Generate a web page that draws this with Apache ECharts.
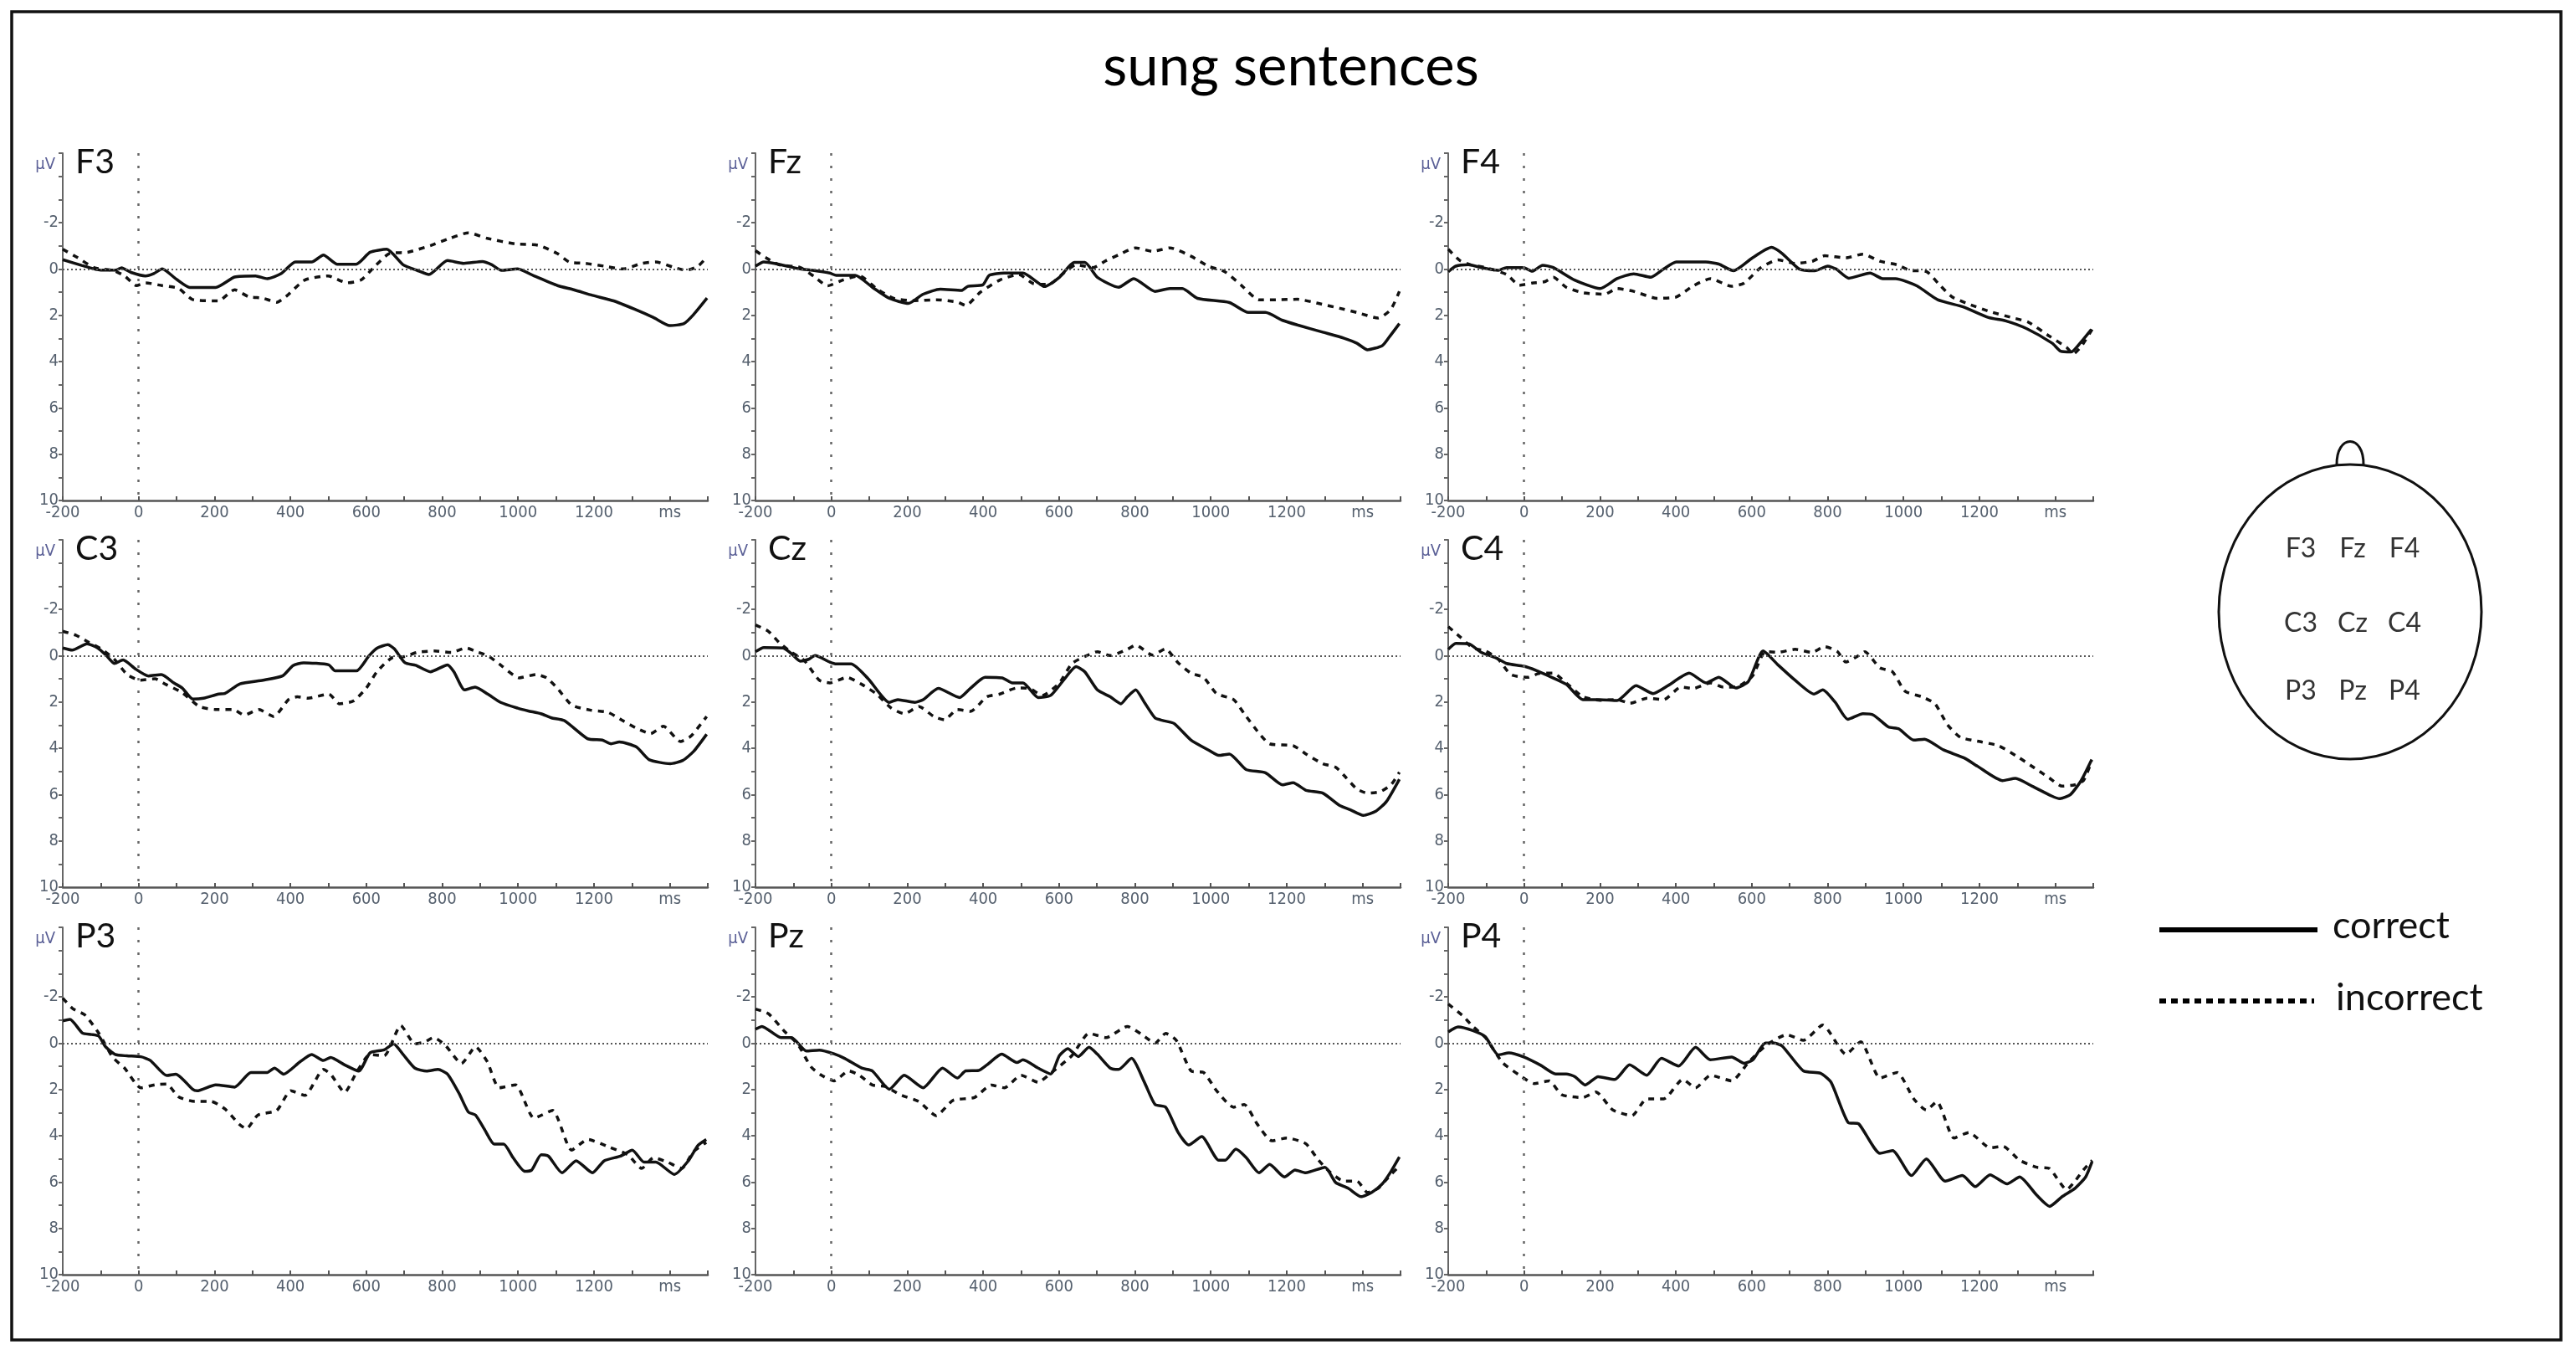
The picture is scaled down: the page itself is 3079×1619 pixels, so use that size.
<!DOCTYPE html>
<html><head><meta charset="utf-8">
<script src="https://cdn.jsdelivr.net/npm/echarts@6/dist/echarts.min.js"></script>
<style>html,body{margin:0;padding:0;background:#fff}#c{width:3079px;height:1619px}</style>
</head><body><div id="c"></div>
<script>
const chartTitle = 'sung sentences';
const channels = ['F3','Fz','F4','C3','Cz','C4','P3','Pz','P4'];
const seriesNames = ['correct','incorrect'];
const xLabelValues = [-200,0,200,400,600,800,1000,1200,1400];
const xLabelTexts = ['-200','0','200','400','600','800','1000','1200','ms'];
const yLabelValues = [-2,0,2,4,6,8,10];
const yUnit = 'μV';
const headRows = [['F3','Fz','F4'],['C3','Cz','C4'],['P3','Pz','P4']];

// [time ms, amplitude µV] (negative plotted up)
const f3Correct = [[-200,-0.4],[-150,-0.15],[-117,0],[-100,0.05],[-60,0.05],[-45,-0.05],[-20,0.15],[18,0.3],[40,0.2],[62,0],[100,0.45],[135,0.8],[203,0.8],[253,0.35],[308,0.3],[339,0.42],[376,0.2],[413,-0.3],[456,-0.3],[487,-0.6],[524,-0.2],[573,-0.2],[610,-0.72],[654,-0.85],[697,-0.18],[734,0.06],[765,0.24],[814,-0.36],[857,-0.24],[906,-0.32],[931,-0.18],[956,0.06],[999,0],[1042,0.3],[1104,0.72],[1147,0.9],[1196,1.14],[1252,1.38],[1307,1.74],[1357,2.1],[1400,2.45],[1437,2.36],[1462,1.98],[1498,1.26]];
const f3Incorrect = [[-200,-0.85],[-160,-0.48],[-117,-0.05],[-68,0.06],[-37,0.3],[-6,0.72],[18,0.6],[62,0.72],[105,0.84],[142,1.32],[210,1.38],[253,0.9],[290,1.2],[327,1.26],[364,1.44],[388,1.2],[438,0.48],[499,0.3],[549,0.6],[586,0.48],[623,-0.12],[660,-0.66],[709,-0.72],[771,-1.02],[820,-1.32],[869,-1.56],[919,-1.32],[993,-1.08],[1054,-1.02],[1104,-0.66],[1135,-0.3],[1178,-0.24],[1227,-0.12],[1277,0],[1326,-0.24],[1363,-0.3],[1412,-0.06],[1443,0.06],[1474,-0.12],[1496,-0.48]];
const fzCorrect = [[-200,-0.12],[-178,-0.3],[-150,-0.24],[-116,-0.12],[-82,0],[-49,0.06],[-4,0.18],[13,0.28],[63,0.28],[108,0.79],[153,1.27],[203,1.49],[242,1.09],[287,0.87],[343,0.93],[360,0.75],[399,0.69],[416,0.28],[455,0.18],[505,0.18],[545,0.6],[561,0.76],[601,0.36],[640,-0.28],[668,-0.28],[701,0.36],[757,0.79],[797,0.42],[853,0.97],[892,0.85],[925,0.85],[965,1.27],[1049,1.45],[1099,1.88],[1144,1.88],[1189,2.22],[1228,2.42],[1295,2.73],[1351,2.99],[1385,3.21],[1413,3.49],[1452,3.31],[1469,2.97],[1497,2.36]];
const fzIncorrect = [[-200,-0.79],[-172,-0.48],[-138,-0.18],[-82,-0.06],[-43,0.36],[-10,0.73],[30,0.48],[74,0.3],[119,0.85],[164,1.27],[220,1.37],[276,1.33],[332,1.43],[354,1.58],[393,1.0],[444,0.48],[494,0.24],[533,0.64],[573,0.67],[612,0.18],[645,-0.18],[690,-0.06],[724,-0.36],[757,-0.61],[802,-0.91],[847,-0.76],[892,-0.91],[948,-0.55],[993,-0.12],[1037,0.12],[1082,0.73],[1127,1.33],[1172,1.33],[1228,1.31],[1284,1.49],[1340,1.7],[1385,1.88],[1441,2.12],[1474,1.76],[1497,0.97]];
const f4Correct = [[-200,0.12],[-180,-0.12],[-147,-0.18],[-113,-0.06],[-69,0.06],[-46,-0.06],[-1,-0.06],[21,0.1],[49,-0.16],[77,-0.06],[133,0.48],[200,0.85],[245,0.42],[289,0.21],[334,0.36],[368,0],[401,-0.3],[479,-0.3],[513,-0.21],[552,0.08],[602,-0.48],[652,-0.93],[680,-0.67],[725,0],[766,0.08],[800,-0.12],[822,0],[856,0.4],[912,0.18],[945,0.42],[979,0.42],[1035,0.73],[1090,1.33],[1157,1.64],[1224,2.1],[1269,2.24],[1325,2.58],[1392,3.21],[1414,3.55],[1442,3.58],[1465,3.21],[1495,2.61]];
const f4Incorrect = [[-200,-0.85],[-169,-0.36],[-141,-0.18],[-102,-0.06],[-46,0.24],[-12,0.7],[21,0.61],[55,0.55],[77,0.36],[111,0.79],[156,1.03],[212,1.09],[245,0.85],[289,0.97],[351,1.27],[401,1.21],[446,0.73],[491,0.42],[547,0.75],[580,0.61],[624,-0.06],[669,-0.39],[714,-0.24],[759,-0.33],[792,-0.57],[848,-0.48],[893,-0.64],[938,-0.33],[983,-0.18],[1016,0.06],[1061,0.12],[1094,0.67],[1128,1.21],[1172,1.52],[1229,1.85],[1285,2.1],[1329,2.3],[1385,2.91],[1430,3.39],[1447,3.67],[1469,3.33],[1497,2.61]];
const c3Correct = [[-200,-0.33],[-175,-0.24],[-136,-0.51],[-108,-0.33],[-86,-0.02],[-64,0.34],[-41,0.19],[-8,0.58],[26,0.88],[60,0.82],[93,1.18],[115,1.4],[143,1.88],[171,1.84],[211,1.66],[227,1.64],[267,1.22],[328,1.06],[379,0.88],[407,0.43],[435,0.31],[501,0.4],[518,0.66],[574,0.66],[607,0.01],[629,-0.33],[657,-0.47],[674,-0.29],[702,0.31],[730,0.42],[769,0.7],[814,0.4],[831,0.7],[859,1.48],[887,1.36],[920,1.66],[954,2.02],[999,2.27],[1027,2.39],[1060,2.51],[1088,2.69],[1122,2.81],[1183,3.59],[1222,3.65],[1245,3.81],[1267,3.73],[1312,3.95],[1345,4.49],[1401,4.67],[1434,4.53],[1463,4.13],[1497,3.4]];
const c3Incorrect = [[-200,-1.05],[-164,-0.87],[-131,-0.57],[-97,-0.27],[-64,0.16],[-30,0.82],[4,1.06],[43,1.0],[71,1.24],[115,1.6],[160,2.2],[205,2.33],[250,2.33],[278,2.57],[317,2.33],[356,2.63],[395,1.9],[418,1.78],[446,1.84],[501,1.66],[529,2.08],[566,1.96],[600,1.4],[628,0.7],[667,0.1],[701,0.04],[734,-0.14],[779,-0.2],[824,-0.14],[863,-0.33],[891,-0.17],[924,0.04],[958,0.46],[1003,0.96],[1047,0.82],[1075,0.96],[1103,1.4],[1142,2.14],[1192,2.36],[1237,2.45],[1276,2.81],[1316,3.17],[1349,3.37],[1383,3.05],[1428,3.71],[1456,3.47],[1497,2.63]];
const czCorrect = [[-200,-0.17],[-178,-0.35],[-127,-0.33],[-105,-0.08],[-82,0.24],[-60,0.16],[-43,0],[-4,0.28],[13,0.36],[52,0.36],[97,1.0],[153,2.02],[175,1.9],[220,2.02],[242,1.9],[282,1.42],[338,1.81],[366,1.42],[405,0.94],[450,0.96],[477,1.18],[505,1.18],[545,1.81],[578,1.72],[612,1.06],[645,0.48],[668,0.7],[701,1.48],[735,1.78],[763,2.08],[780,1.78],[802,1.48],[825,2.02],[853,2.69],[875,2.81],[903,2.93],[948,3.65],[993,4.07],[1021,4.31],[1049,4.25],[1093,4.92],[1144,5.06],[1189,5.58],[1217,5.49],[1251,5.82],[1295,5.94],[1340,6.48],[1368,6.66],[1402,6.9],[1435,6.72],[1463,6.3],[1497,5.34]];
const czIncorrect = [[-200,-1.33],[-166,-1.05],[-138,-0.57],[-105,-0.14],[-71,0.22],[-32,1.06],[-4,1.18],[41,0.94],[80,1.24],[119,1.66],[158,2.27],[192,2.51],[231,2.2],[270,2.63],[298,2.77],[332,2.33],[366,2.41],[410,1.78],[444,1.66],[489,1.4],[522,1.42],[556,1.72],[601,1.18],[634,0.34],[668,0.04],[701,-0.17],[735,0],[780,-0.27],[802,-0.45],[847,-0.02],[880,-0.29],[914,0.31],[948,0.76],[981,0.94],[1015,1.64],[1060,1.9],[1088,2.51],[1127,3.35],[1155,3.81],[1217,3.89],[1251,4.25],[1295,4.67],[1329,4.82],[1357,5.28],[1385,5.76],[1413,5.94],[1446,5.88],[1475,5.58],[1497,5.04]];
const c4Correct = [[-200,-0.27],[-180,-0.53],[-146,-0.51],[-113,-0.14],[-74,0.1],[-46,0.34],[-1,0.46],[32,0.64],[65,0.88],[111,1.24],[155,1.9],[200,1.9],[245,1.94],[295,1.3],[340,1.64],[379,1.3],[435,0.76],[480,1.18],[513,0.94],[558,1.4],[591,1.12],[630,-0.2],[669,0.4],[714,1.06],[764,1.66],[787,1.48],[820,2.02],[853,2.75],[893,2.51],[921,2.57],[960,3.08],[988,3.17],[1027,3.65],[1055,3.61],[1105,4.07],[1161,4.43],[1194,4.77],[1261,5.4],[1295,5.3],[1339,5.64],[1390,6.06],[1412,6.18],[1440,6.0],[1468,5.4],[1496,4.49]];
const c4Incorrect = [[-200,-1.25],[-169,-0.81],[-135,-0.33],[-102,-0.2],[-68,0.16],[-35,0.82],[10,0.94],[43,0.76],[77,0.76],[111,1.18],[155,1.78],[200,1.93],[245,1.9],[279,2.06],[324,1.84],[368,1.9],[413,1.36],[446,1.42],[491,1.18],[525,1.36],[558,1.36],[602,0.88],[636,-0.17],[669,-0.14],[714,-0.27],[759,-0.14],[792,-0.39],[826,-0.17],[848,0.28],[882,0],[898,-0.17],[937,0.52],[971,0.7],[1004,1.54],[1049,1.78],[1083,2.08],[1116,2.99],[1150,3.53],[1206,3.73],[1250,3.89],[1295,4.31],[1334,4.73],[1384,5.28],[1418,5.64],[1451,5.58],[1474,5.4],[1496,4.55]];
const p3Correct = [[-200,-0.96],[-181,-1.02],[-148,-0.43],[-124,-0.37],[-105,-0.3],[-87,0.16],[-62,0.49],[-31,0.55],[6,0.59],[31,0.75],[74,1.4],[98,1.34],[142,1.99],[154,2.06],[203,1.8],[253,1.9],[296,1.27],[339,1.27],[358,1.08],[382,1.34],[425,0.81],[456,0.49],[487,0.75],[506,0.62],[543,0.94],[580,1.21],[610,0.42],[647,0.29],[672,0.03],[697,0.49],[728,1.08],[759,1.21],[789,1.14],[814,1.34],[845,2.19],[869,2.98],[888,3.11],[913,3.77],[937,4.36],[962,4.36],[987,4.95],[1018,5.54],[1036,5.48],[1061,4.82],[1080,4.88],[1116,5.6],[1153,5.08],[1196,5.6],[1227,5.08],[1270,4.88],[1301,4.62],[1332,5.14],[1363,5.14],[1412,5.67],[1449,5.08],[1474,4.42],[1496,4.16]];
const p3Incorrect = [[-200,-1.94],[-173,-1.48],[-142,-1.22],[-105,-0.43],[-68,0.62],[-37,1.08],[6,1.93],[43,1.8],[74,1.77],[105,2.32],[148,2.52],[191,2.52],[228,2.85],[265,3.5],[284,3.7],[314,3.11],[364,2.91],[401,2.06],[438,2.26],[487,1.14],[506,1.34],[543,2.13],[574,1.27],[610,0.49],[647,0.55],[691,-0.76],[728,0.03],[753,-0.04],[777,-0.24],[808,0.09],[851,0.88],[888,0.16],[919,0.81],[950,1.93],[993,1.8],[1042,3.24],[1091,2.91],[1141,4.62],[1184,4.16],[1240,4.49],[1289,4.82],[1326,5.41],[1357,4.95],[1394,5.14],[1431,5.41],[1462,4.69],[1496,4.29]];
const pzCorrect = [[-200,-0.6],[-183,-0.72],[-133,-0.24],[-105,-0.24],[-66,0.34],[-32,0.3],[7,0.46],[35,0.66],[80,1.08],[108,1.2],[153,1.99],[192,1.39],[242,1.93],[293,1.08],[332,1.51],[354,1.2],[388,1.18],[410,0.94],[449,0.48],[489,0.84],[505,0.72],[545,1.08],[578,1.33],[601,0.54],[623,0.24],[651,0.58],[679,0.18],[701,0.48],[735,1.08],[757,1.14],[791,0.66],[825,1.69],[853,2.65],[881,2.77],[914,3.86],[942,4.4],[976,4.04],[1021,5.06],[1038,5.06],[1066,4.58],[1093,4.94],[1127,5.6],[1155,5.24],[1194,5.78],[1222,5.48],[1250,5.6],[1301,5.36],[1329,6.02],[1362,6.27],[1396,6.63],[1424,6.45],[1452,6.08],[1475,5.54],[1497,4.92]];
const pzIncorrect = [[-200,-1.47],[-166,-1.27],[-122,-0.48],[-88,0.06],[-54,1.02],[-26,1.39],[7,1.63],[46,1.2],[74,1.39],[108,1.81],[142,1.87],[181,2.23],[231,2.53],[276,3.13],[321,2.47],[377,2.35],[422,1.81],[456,1.93],[500,1.39],[545,1.69],[578,1.3],[634,0.54],[679,-0.42],[724,-0.24],[780,-0.72],[819,-0.36],[853,0],[881,-0.42],[909,-0.12],[948,1.2],[981,1.27],[1015,2.05],[1060,2.77],[1088,2.65],[1122,3.49],[1161,4.22],[1200,4.1],[1250,4.34],[1284,5.06],[1312,5.54],[1351,5.96],[1385,5.96],[1413,6.45],[1441,6.27],[1469,5.78],[1497,5.3]];
const p4Correct = [[-200,-0.48],[-174,-0.7],[-135,-0.54],[-102,-0.27],[-68,0.51],[-40,0.42],[-1,0.6],[44,0.96],[83,1.33],[111,1.33],[134,1.45],[161,1.81],[195,1.45],[239,1.57],[278,0.94],[323,1.39],[362,0.66],[407,0.99],[452,0.18],[491,0.72],[547,0.6],[580,0.87],[603,0.72],[636,0],[658,0],[680,0.12],[736,1.2],[781,1.3],[809,1.69],[854,3.43],[882,3.49],[938,4.76],[971,4.64],[1021,5.72],[1060,5.0],[1110,5.96],[1155,5.72],[1189,6.2],[1228,5.69],[1273,6.08],[1306,5.78],[1351,6.57],[1385,7.05],[1418,6.63],[1452,6.27],[1480,5.78],[1497,5.12]];
const p4Incorrect = [[-200,-1.69],[-163,-1.2],[-135,-0.72],[-102,-0.24],[-57,0.84],[-12,1.39],[27,1.75],[66,1.63],[99,2.23],[155,2.35],[189,2.11],[234,2.89],[284,3.13],[323,2.41],[368,2.41],[418,1.57],[452,1.93],[491,1.39],[547,1.63],[591,0.84],[636,0.12],[692,-0.36],[736,-0.12],[787,-0.78],[848,0.48],[887,-0.06],[938,1.51],[983,1.27],[1027,2.41],[1060,2.89],[1088,2.53],[1133,4.1],[1172,3.86],[1228,4.52],[1262,4.46],[1306,5.06],[1351,5.36],[1385,5.42],[1430,6.33],[1452,5.96],[1474,5.48],[1497,5.06]];

const correctByChannel = [f3Correct,fzCorrect,f4Correct,c3Correct,czCorrect,c4Correct,p3Correct,pzCorrect,p4Correct];
const incorrectByChannel = [f3Incorrect,fzIncorrect,f4Incorrect,c3Incorrect,czIncorrect,c4Incorrect,p3Incorrect,pzIncorrect,p4Incorrect];

// layout
const colLefts = [75, 903, 1731];
const rowTops = [183, 645, 1108];
const gridW = 771, gridH = 415;
const tickColor = '#55606e';
const axisColor = '#555';
const tickFont = "'DejaVu Sans Condensed', 'Liberation Sans Narrow', sans-serif";
const mainFont = "Lato, 'Open Sans', sans-serif";

const grids = [], xAxes = [], yAxes = [], series = [], graphics = [];

graphics.push({type:'rect', shape:{x:14, y:14, width:3047, height:1587}, style:{fill:'none', stroke:'#111', lineWidth:3.5}});
graphics.push({type:'text', x:1543, y:80, style:{text:chartTitle, font:'67px '+mainFont, fill:'#000', align:'center', verticalAlign:'middle', textAlign:'center', textVerticalAlign:'middle'}});

channels.forEach((ch, i) => {
  const col = i % 3, row = Math.floor(i / 3);
  const left = colLefts[col], top = rowTops[row];
  grids.push({left, top, width:gridW, height:gridH, containLabel:false});
  xAxes.push({
    gridIndex:i, type:'value', min:-200, max:1500, interval:100,
    axisLine:{show:true, onZero:false, lineStyle:{color:axisColor, width:2.5}},
    axisTick:{show:true, inside:true, length:5, lineStyle:{color:axisColor, width:2}},
    axisLabel:{show:true, margin:5, fontSize:20, fontFamily:tickFont, color:tickColor,
      formatter:v => { const k = xLabelValues.indexOf(v); return k >= 0 ? xLabelTexts[k] : ''; }},
    splitLine:{show:false}
  });
  yAxes.push({
    gridIndex:i, type:'value', inverse:true, min:-5, max:10, interval:1,
    axisLine:{show:true, onZero:false, lineStyle:{color:'#666', width:2}},
    axisTick:{show:true, inside:false, length:5, lineStyle:{color:'#666', width:2}},
    axisLabel:{show:true, margin:5, fontSize:20, fontFamily:tickFont, color:tickColor,
      formatter:v => yLabelValues.indexOf(v) >= 0 ? String(v) : ''},
    splitLine:{show:false}
  });
  series.push({
    name:seriesNames[1], type:'line', xAxisIndex:i, yAxisIndex:i, data:incorrectByChannel[i],
    showSymbol:false, smooth:0.2, lineStyle:{color:'#111', width:3.5, type:[7,7]}, z:2,
    markLine:{silent:true, symbol:['none','none'], label:{show:false}, animation:false,
      data:[
        {xAxis:0, lineStyle:{type:[3,12], color:'#666', width:2.5}},
        {yAxis:0, lineStyle:{type:[2,3], color:'#555', width:2}}
      ]}
  });
  series.push({
    name:seriesNames[0], type:'line', xAxisIndex:i, yAxisIndex:i, data:correctByChannel[i],
    showSymbol:false, smooth:0.2, lineStyle:{color:'#111', width:3.5, type:'solid'}, z:3
  });
  graphics.push({type:'text', x:left+15, y:top+11, style:{text:ch, font:'41px '+mainFont, fill:'#111', align:'left', verticalAlign:'middle', textAlign:'left', textVerticalAlign:'middle'}});
  graphics.push({type:'text', x:left-9, y:top+14, style:{text:yUnit, font:'20px '+tickFont, fill:'#5a5f96', align:'right', verticalAlign:'middle', textAlign:'right', textVerticalAlign:'middle'}});
});

// head diagram
graphics.push({type:'ellipse', shape:{cx:2809, cy:731, rx:157, ry:176}, style:{fill:'none', stroke:'#111', lineWidth:3}});
graphics.push({type:'bezierCurve', shape:{x1:2793, y1:556, cpx1:2792, cpy1:518, cpx2:2826, cpy2:518, x2:2825, y2:556}, style:{fill:'none', stroke:'#111', lineWidth:3}});
const headXs = [2750, 2812, 2874], headYs = [656, 745, 826];
headRows.forEach((r, ri) => r.forEach((lab, ci) => {
  graphics.push({type:'text', x:headXs[ci], y:headYs[ri], style:{text:lab, font:'32px '+mainFont, fill:'#333', align:'center', verticalAlign:'middle', textAlign:'center', textVerticalAlign:'middle'}});
}));

// legend
graphics.push({type:'line', shape:{x1:2581, y1:1111, x2:2770, y2:1111}, style:{stroke:'#000', lineWidth:6}});
graphics.push({type:'line', shape:{x1:2581, y1:1196, x2:2766, y2:1196}, style:{stroke:'#000', lineWidth:6, lineDash:[8,6]}});
graphics.push({type:'text', x:2788, y:1106, style:{text:seriesNames[0], font:'45px '+mainFont, fill:'#111', align:'left', verticalAlign:'middle', textAlign:'left', textVerticalAlign:'middle'}});
graphics.push({type:'text', x:2792, y:1192, style:{text:seriesNames[1], font:'45px '+mainFont, fill:'#111', align:'left', verticalAlign:'middle', textAlign:'left', textVerticalAlign:'middle'}});

const chart = echarts.init(document.getElementById('c'));
chart.setOption({
  animation:false, backgroundColor:'#fff',
  grid:grids, xAxis:xAxes, yAxis:yAxes, series, graphic:graphics
});
</script></body></html>
